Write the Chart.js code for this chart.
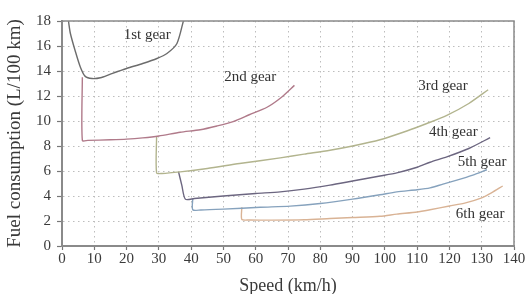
<!DOCTYPE html>
<html>
<head>
<meta charset="utf-8">
<script src="https://cdn.jsdelivr.net/npm/chart.js@4"></script>
<style>
  html, body { margin: 0; padding: 0; background: #fff; }
  #wrap { width: 527px; height: 294px; }
</style>
</head>
<body>
<div id="wrap"><canvas id="fuelChart" width="527" height="294"></canvas></div>
<script>
// values (speed in km/h, fuel in L/100 km)
const gear1Speed = [2, 2.6, 4.1, 5.7, 7.2, 9.3, 11.9, 15, 20, 25, 29.4, 32.5, 35.6, 37.6];
const gear1Fuel  = [18, 17, 15.6, 14.3, 13.57, 13.4, 13.46, 13.75, 14.2, 14.6, 15.0, 15.4, 16.2, 18];

const gear2Speed = [6.3, 6.3, 8, 15, 20, 25, 30, 36.6, 42.8, 48, 53, 58, 63.5, 68, 72];
const gear2Fuel  = [13.5, 8.45, 8.45, 8.5, 8.55, 8.65, 8.8, 9.1, 9.3, 9.6, 9.95, 10.5, 11.1, 11.9, 12.85];

const gear3Speed = [29.3, 29.3, 31, 36.6, 45, 55, 67.6, 75, 83, 90, 98.5, 106.8, 113, 119.2, 126, 132];
const gear3Fuel  = [8.8, 5.85, 5.8, 5.93, 6.2, 6.6, 7.05, 7.35, 7.66, 8.0, 8.5, 9.2, 9.8, 10.45, 11.4, 12.5];

const gear4Speed = [36.1, 37.1, 38.2, 41, 50, 60, 67.6, 75, 83, 90, 98.5, 103.7, 110, 114, 119.2, 126, 132.6];
const gear4Fuel  = [5.93, 4.87, 3.75, 3.8, 4.0, 4.2, 4.33, 4.55, 4.87, 5.2, 5.6, 5.85, 6.3, 6.7, 7.13, 7.8, 8.67];

const gear5Speed = [40.5, 40.5, 43, 50, 61.4, 70.7, 80, 90, 98.5, 103.7, 110, 114, 118, 122.3, 127, 131.6];
const gear5Fuel  = [3.8, 2.9, 2.88, 2.95, 3.1, 3.19, 3.4, 3.75, 4.1, 4.33, 4.5, 4.65, 4.95, 5.27, 5.65, 6.1];

const gear6Speed = [55.7, 55.7, 58, 65, 75, 83, 90, 98.5, 103.7, 110, 114, 120, 125, 130, 133, 136.5];
const gear6Fuel  = [3.1, 2.13, 2.08, 2.07, 2.1, 2.2, 2.28, 2.38, 2.55, 2.72, 2.9, 3.2, 3.45, 3.85, 4.25, 4.8];

const gearNames  = ['1st gear', '2nd gear', '3rd gear', '4th gear', '5th gear', '6th gear'];
const gearColors = ['#6c6c6c', '#b07a8a', '#b2b48e', '#6c6680', '#86a2bd', '#d9b395'];
const labelSpeed = [26.4, 58.3, 118, 121.2, 130.1, 129.5];
const labelFuel  = [16.9, 13.5, 12.8, 9.1, 6.7, 2.55];

const xTicks = [0, 10, 20, 30, 40, 50, 60, 70, 80, 90, 100, 110, 120, 130, 140];
const yTicks = [0, 2, 4, 6, 8, 10, 12, 14, 16, 18];

const speeds = [gear1Speed, gear2Speed, gear3Speed, gear4Speed, gear5Speed, gear6Speed];
const fuels  = [gear1Fuel, gear2Fuel, gear3Fuel, gear4Fuel, gear5Fuel, gear6Fuel];

const serif = "'Liberation Serif', 'DejaVu Serif', serif";

// pair up speed/fuel arrays for each gear
const datasets = speeds.map((sp, i) => ({
  label: gearNames[i],
  data: sp.map((s, j) => ({ x: s, y: fuels[i][j] })),
  showLine: true,
  borderColor: gearColors[i],
  borderWidth: 1.4,
  pointRadius: 0,
  tension: 0.25,
  fill: false
}));

// top/right frame lines
const framePlugin = {
  id: 'frame',
  afterDraw(chart) {
    const { ctx, chartArea: a } = chart;
    ctx.save();
    ctx.strokeStyle = '#8a8a8a';
    ctx.lineWidth = 1.5;
    ctx.beginPath();
    ctx.moveTo(a.left, a.top);
    ctx.lineTo(a.right, a.top);
    ctx.lineTo(a.right, a.bottom);
    ctx.stroke();
    ctx.restore();
  }
};

// gear names next to the curves
const gearLabelPlugin = {
  id: 'gearLabels',
  afterDatasetsDraw(chart) {
    const { ctx, scales } = chart;
    ctx.save();
    ctx.font = '15px ' + serif;
    ctx.fillStyle = '#333';
    ctx.textAlign = 'center';
    ctx.textBaseline = 'middle';
    gearNames.forEach((name, i) => {
      ctx.fillText(name, scales.x.getPixelForValue(labelSpeed[i]), scales.y.getPixelForValue(labelFuel[i]));
    });
    ctx.restore();
  }
};

new Chart(document.getElementById('fuelChart'), {
  type: 'scatter',
  data: { datasets },
  plugins: [framePlugin, gearLabelPlugin],
  options: {
    responsive: false,
    animation: false,
    layout: { padding: { top: 21, right: 13, left: 0, bottom: 0 } },
    plugins: { legend: { display: false }, tooltip: { enabled: false } },
    scales: {
      x: {
        type: 'linear',
        min: 0,
        max: 140,
        afterBuildTicks: s => { s.ticks = xTicks.map(v => ({ value: v })); },
        afterFit: s => { s.height = 48; },
        grid: { color: '#bdbdbd', lineWidth: 1, tickLength: 4, tickColor: '#777', tickWidth: 1.2 },
        border: { color: '#8a8a8a', width: 2, dash: [1.5, 3.5] },
        ticks: { color: '#3a3a3a', font: { family: serif, size: 15 }, padding: 0, maxRotation: 0 },
        title: {
          display: true,
          text: 'Speed (km/h)',
          color: '#3a3a3a',
          font: { family: serif, size: 18, lineHeight: 1 },
          padding: { top: 0, bottom: -1 }
        }
      },
      y: {
        min: 0,
        max: 18,
        afterBuildTicks: s => { s.ticks = yTicks.map(v => ({ value: v })); },
        afterFit: s => { s.width = 62; },
        grid: { color: '#bdbdbd', lineWidth: 1, tickLength: 5, tickColor: '#777', tickWidth: 1.2 },
        border: { color: '#8a8a8a', width: 2, dash: [1.5, 3.5] },
        ticks: { color: '#3a3a3a', font: { family: serif, size: 15 }, padding: 6 },
        title: {
          display: true,
          text: 'Fuel consumption (L/100 km)',
          color: '#3a3a3a',
          font: { family: serif, size: 19, lineHeight: 1 },
          padding: { top: 6, bottom: 0 }
        }
      }
    }
  }
});
</script>
</body>
</html>
